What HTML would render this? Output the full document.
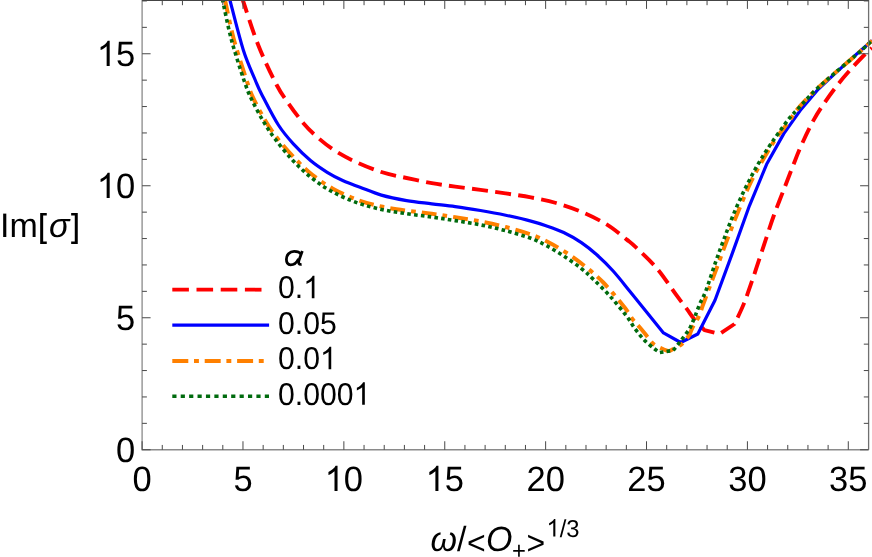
<!DOCTYPE html>
<html><head><meta charset="utf-8"><title>plot</title>
<style>
html,body{margin:0;padding:0;background:#fff;}
body{width:872px;height:557px;overflow:hidden;font-family:"Liberation Sans",sans-serif;}
svg{display:block;will-change:transform;}
text{font-family:"Liberation Sans",sans-serif;fill:#000;text-rendering:geometricPrecision;}
</style></head><body>
<svg width="872" height="557" viewBox="0 0 872 557">
<rect width="872" height="557" fill="#fff"/>
<g fill="none" stroke-linejoin="round">
<path d="M242.8 0.0 C245.4 7.5 252.5 30.8 258.2 45.0 C263.8 59.2 271.7 75.4 276.7 85.0 C281.7 94.6 283.6 96.4 288.0 102.7 C292.4 109.0 298.1 117.0 303.2 122.9 C308.2 128.8 312.8 133.2 318.3 138.0 C323.8 142.8 329.7 147.4 336.0 151.4 C342.3 155.4 348.5 158.6 356.1 162.0 C363.7 165.4 373.0 169.3 381.4 172.0 C389.8 174.7 398.2 176.2 406.6 178.0 C415.0 179.8 423.7 181.7 431.8 183.1 C439.9 184.5 447.1 185.5 455.2 186.6 C463.3 187.7 472.1 188.8 480.5 189.9 C488.9 191.0 497.3 192.2 505.7 193.4 C514.1 194.7 522.5 195.8 530.9 197.4 C539.3 199.0 547.7 200.6 556.1 203.0 C564.5 205.4 573.0 208.2 581.4 211.8 C589.8 215.4 599.0 219.8 606.6 224.4 C614.2 229.0 621.9 235.8 626.8 239.6 C631.7 243.4 631.0 242.6 636.0 247.4 C641.0 252.2 650.4 260.7 657.0 268.5 C663.6 276.3 670.8 287.5 675.7 294.2 C680.6 300.9 683.5 304.5 686.6 308.6 C689.7 312.7 691.1 315.4 694.1 319.0 C697.1 322.6 702.8 328.3 704.5 330.2 L719.5 334.0 L734.5 324.0 C736.1 320.6 741.0 310.9 744.0 303.4 C747.0 295.9 749.7 287.7 752.7 279.0 C755.7 270.3 759.8 257.6 762.0 251.0 C764.2 244.4 763.8 245.5 765.8 239.5 C767.8 233.5 770.8 223.8 774.0 215.0 C777.2 206.2 781.4 195.8 784.8 187.0 C788.2 178.2 791.3 169.9 794.3 162.5 C797.2 155.1 799.2 149.8 802.5 142.7 C805.8 135.5 810.2 126.3 813.9 119.6 C817.6 112.9 820.7 108.3 824.6 102.6 C828.5 96.9 833.0 90.7 837.2 85.3 C841.4 79.9 845.6 75.1 849.8 70.4 C854.0 65.7 858.6 60.7 862.3 57.0 C866.0 53.3 870.4 49.5 872.0 48.0" stroke="#ff0000" stroke-width="3.9" stroke-dasharray="16 7.3" stroke-dashoffset="2.4"/>
<path d="M229.9 0.0 C232.1 8.3 239.1 36.7 243.3 50.0 C247.5 63.3 252.2 72.7 255.2 80.0 C258.2 87.3 257.6 86.4 261.5 93.9 C265.4 101.4 273.0 116.6 278.4 125.0 C283.8 133.4 288.2 138.2 293.6 144.1 C299.0 150.0 304.9 155.8 310.5 160.5 C316.1 165.2 321.8 168.9 327.2 172.3 C332.6 175.7 337.7 178.2 343.2 180.7 C348.7 183.2 353.6 184.8 360.0 187.2 C366.4 189.6 373.6 192.9 381.4 195.1 C389.2 197.3 398.2 199.1 406.6 200.6 C415.0 202.1 423.7 202.8 431.8 203.8 C439.9 204.8 447.1 205.5 455.2 206.6 C463.3 207.7 472.1 209.1 480.5 210.5 C488.9 211.9 497.3 213.4 505.7 215.2 C514.1 217.0 524.2 219.3 530.9 221.1 C537.6 222.8 540.5 223.8 546.0 225.7 C551.5 227.6 557.8 229.7 563.7 232.5 C569.6 235.3 575.9 238.9 581.4 242.6 C586.9 246.3 591.2 249.8 596.5 254.5 C601.8 259.2 607.3 264.6 612.9 270.8 C618.5 277.0 621.6 281.1 630.0 291.5 C638.4 301.9 657.9 326.0 663.5 332.9 L680.7 342.5 L697.8 334.0 L715.0 300.2 L732.2 253.6 L749.4 205.8 L766.6 164.3 L783.8 133.6 L801.0 109.4 L818.2 89.3 L835.4 73.2 L852.6 57.6 C855.5 55.1 866.6 45.4 869.8 42.6 C873.0 39.8 871.6 40.9 872.0 40.6" stroke="#0000ff" stroke-width="3.2"/>
<path d="M225.0 0.0 C226.5 6.7 230.4 26.7 234.0 40.0 C237.6 53.3 243.3 70.3 246.5 80.0 C249.7 89.7 250.2 91.6 253.3 98.2 C256.4 104.8 260.8 113.0 264.8 119.7 C268.8 126.4 272.2 131.7 277.3 138.2 C282.4 144.7 289.5 152.7 295.3 158.8 C301.1 164.9 306.1 169.9 312.3 174.8 C318.5 179.7 324.8 184.2 332.4 188.4 C339.9 192.6 349.2 196.8 357.6 199.9 C366.0 203.0 374.4 205.0 382.8 206.8 C391.2 208.6 399.8 209.7 408.0 210.8 C416.2 212.0 423.9 212.6 431.8 213.7 C439.7 214.8 447.1 215.9 455.2 217.2 C463.3 218.5 472.1 219.8 480.5 221.4 C488.9 223.0 497.3 224.8 505.7 227.0 C514.1 229.2 523.9 232.0 530.9 234.5 C537.9 237.0 542.1 239.0 548.0 242.0 C553.9 245.0 560.0 248.6 566.0 252.5 C572.0 256.4 577.8 260.5 584.0 265.5 C590.2 270.5 596.6 275.6 603.3 282.5 C610.0 289.4 619.3 300.8 624.3 307.0 C629.2 313.2 630.4 316.4 633.0 319.8 C635.6 323.2 637.2 324.4 639.7 327.3 C642.2 330.2 645.5 334.5 647.9 337.4 C650.3 340.2 651.3 342.4 653.9 344.4 C656.5 346.4 661.9 348.5 663.5 349.3 C664.4 349.6 667.2 351.2 668.8 351.1 C670.4 351.0 672.5 349.3 673.2 348.9 C674.7 348.0 679.5 346.1 682.2 343.7 C684.9 341.3 688.4 336.2 689.6 334.7 C690.1 333.5 691.1 330.3 692.6 327.3 C694.1 324.3 696.9 320.5 698.6 316.8 C700.3 313.1 701.8 308.2 703.0 304.9 C704.2 301.5 703.4 303.7 706.0 296.7 C708.6 289.7 715.1 272.4 718.7 262.7 C722.3 253.0 724.5 246.6 727.7 238.3 C730.9 230.0 733.9 222.0 737.7 212.7 C741.5 203.4 746.2 191.6 750.7 182.3 C755.2 173.0 760.4 164.1 764.7 156.7 C769.0 149.3 772.4 143.7 776.3 138.0 C780.2 132.3 784.5 127.5 788.0 122.8 C791.5 118.1 792.7 114.9 797.0 109.7 C801.3 104.5 808.0 97.5 813.8 91.8 C819.6 86.1 825.8 80.8 831.8 75.6 C837.8 70.4 844.7 64.7 849.8 60.4 C854.9 56.1 858.6 52.9 862.3 49.6 C866.0 46.3 870.4 42.1 872.0 40.6" stroke="#ff8000" stroke-width="4" stroke-dasharray="14.9 6.1 4.7 6.1" stroke-dashoffset="0.7"/>
<path d="M222.6 0.0 C224.1 6.7 227.9 26.7 231.5 40.0 C235.1 53.3 240.6 70.2 243.9 80.0 C247.2 89.8 248.2 92.2 251.4 98.9 C254.6 105.6 258.8 113.7 262.8 120.4 C266.8 127.1 270.3 132.6 275.4 139.3 C280.4 146.0 287.2 154.4 293.1 160.7 C299.0 167.0 304.4 172.0 310.7 177.1 C317.0 182.2 323.3 186.8 330.9 191.0 C338.5 195.2 347.7 199.3 356.1 202.4 C364.5 205.5 373.0 207.5 381.4 209.4 C389.8 211.3 398.2 212.4 406.6 213.7 C415.0 215.0 423.7 215.8 431.8 217.0 C439.9 218.2 447.1 219.3 455.2 220.6 C463.3 221.9 472.1 223.2 480.5 224.9 C488.9 226.6 497.3 228.5 505.7 230.7 C514.1 232.9 524.2 235.9 530.9 238.3 C537.6 240.8 540.5 242.5 546.0 245.4 C551.5 248.3 557.8 252.1 563.7 256.0 C569.6 259.9 576.4 264.6 581.4 268.6 C586.4 272.6 589.2 275.2 594.0 279.9 C598.8 284.5 604.8 290.4 610.3 296.5 C615.8 302.6 622.6 310.9 626.7 316.3 C630.9 321.7 632.3 325.1 635.2 329.0 C638.1 332.9 641.1 336.8 644.2 340.0 C647.3 343.2 651.3 346.3 653.9 348.4 C656.5 350.5 658.8 351.9 659.8 352.6 L673.2 350.4 C674.6 348.7 678.7 343.6 681.4 340.0 C684.1 336.4 688.2 330.8 689.6 329.0 C690.5 327.0 693.1 321.1 694.8 316.8 C696.5 312.5 698.2 307.7 700.0 303.4 C701.8 299.1 703.1 298.0 705.7 291.2 C708.3 284.4 712.4 271.3 715.4 262.7 C718.4 254.1 720.8 247.4 723.8 239.5 C726.8 231.6 729.7 223.4 733.2 215.0 C736.7 206.6 740.7 197.7 744.8 189.3 C748.9 180.9 753.2 172.6 757.7 164.8 C762.2 157.0 766.6 150.2 771.7 142.7 C776.8 135.2 784.0 125.1 788.3 119.6 C792.5 114.1 793.0 114.3 797.2 109.7 C801.5 105.1 808.0 97.5 813.8 91.8 C819.6 86.1 825.8 80.8 831.8 75.6 C837.8 70.4 844.7 64.7 849.8 60.4 C854.9 56.1 858.6 52.9 862.3 49.6 C866.0 46.3 870.4 42.1 872.0 40.6" stroke="#006b0e" stroke-width="3.6" stroke-dasharray="3.6 3.24" stroke-dashoffset="1.0"/>
</g>
<g fill="none" stroke-width="1.3">
<path d="M142.10 0 V449.75 H868.60" stroke="#8a8a8a"/>
<path d="M868.60 449.75 V0" stroke="#707070"/>
<path d="M142.10 0.40 H868.60" stroke="#444"/>
</g>
<g fill="none" stroke="#484848" stroke-width="1">
<path d="M142.10 449.75 v-8.50"/>
<path d="M162.28 449.75 v-4.80 M162.28 0.40 v4.80"/>
<path d="M182.45 449.75 v-4.80 M182.45 0.40 v4.80"/>
<path d="M202.63 449.75 v-4.80 M202.63 0.40 v4.80"/>
<path d="M222.81 449.75 v-4.80 M222.81 0.40 v4.80"/>
<path d="M242.98 449.75 v-8.50 M242.98 0.40 v8.50"/>
<path d="M263.16 449.75 v-4.80 M263.16 0.40 v4.80"/>
<path d="M283.34 449.75 v-4.80 M283.34 0.40 v4.80"/>
<path d="M303.52 449.75 v-4.80 M303.52 0.40 v4.80"/>
<path d="M323.69 449.75 v-4.80 M323.69 0.40 v4.80"/>
<path d="M343.87 449.75 v-8.50 M343.87 0.40 v8.50"/>
<path d="M364.05 449.75 v-4.80 M364.05 0.40 v4.80"/>
<path d="M384.22 449.75 v-4.80 M384.22 0.40 v4.80"/>
<path d="M404.40 449.75 v-4.80 M404.40 0.40 v4.80"/>
<path d="M424.58 449.75 v-4.80 M424.58 0.40 v4.80"/>
<path d="M444.75 449.75 v-8.50 M444.75 0.40 v8.50"/>
<path d="M464.93 449.75 v-4.80 M464.93 0.40 v4.80"/>
<path d="M485.11 449.75 v-4.80 M485.11 0.40 v4.80"/>
<path d="M505.29 449.75 v-4.80 M505.29 0.40 v4.80"/>
<path d="M525.46 449.75 v-4.80 M525.46 0.40 v4.80"/>
<path d="M545.64 449.75 v-8.50 M545.64 0.40 v8.50"/>
<path d="M565.82 449.75 v-4.80 M565.82 0.40 v4.80"/>
<path d="M585.99 449.75 v-4.80 M585.99 0.40 v4.80"/>
<path d="M606.17 449.75 v-4.80 M606.17 0.40 v4.80"/>
<path d="M626.35 449.75 v-4.80 M626.35 0.40 v4.80"/>
<path d="M646.52 449.75 v-8.50 M646.52 0.40 v8.50"/>
<path d="M666.70 449.75 v-4.80 M666.70 0.40 v4.80"/>
<path d="M686.88 449.75 v-4.80 M686.88 0.40 v4.80"/>
<path d="M707.06 449.75 v-4.80 M707.06 0.40 v4.80"/>
<path d="M727.23 449.75 v-4.80 M727.23 0.40 v4.80"/>
<path d="M747.41 449.75 v-8.50 M747.41 0.40 v8.50"/>
<path d="M767.59 449.75 v-4.80 M767.59 0.40 v4.80"/>
<path d="M787.76 449.75 v-4.80 M787.76 0.40 v4.80"/>
<path d="M807.94 449.75 v-4.80 M807.94 0.40 v4.80"/>
<path d="M828.12 449.75 v-4.80 M828.12 0.40 v4.80"/>
<path d="M848.29 449.75 v-8.50 M848.29 0.40 v8.50"/>
<path d="M142.10 449.75 h8.50 M868.60 449.75 h-8.50"/>
<path d="M142.10 423.35 h4.80 M868.60 423.35 h-4.80"/>
<path d="M142.10 396.95 h4.80 M868.60 396.95 h-4.80"/>
<path d="M142.10 370.55 h4.80 M868.60 370.55 h-4.80"/>
<path d="M142.10 344.15 h4.80 M868.60 344.15 h-4.80"/>
<path d="M142.10 317.75 h8.50 M868.60 317.75 h-8.50"/>
<path d="M142.10 291.35 h4.80 M868.60 291.35 h-4.80"/>
<path d="M142.10 264.95 h4.80 M868.60 264.95 h-4.80"/>
<path d="M142.10 238.55 h4.80 M868.60 238.55 h-4.80"/>
<path d="M142.10 212.15 h4.80 M868.60 212.15 h-4.80"/>
<path d="M142.10 185.75 h8.50 M868.60 185.75 h-8.50"/>
<path d="M142.10 159.35 h4.80 M868.60 159.35 h-4.80"/>
<path d="M142.10 132.95 h4.80 M868.60 132.95 h-4.80"/>
<path d="M142.10 106.55 h4.80 M868.60 106.55 h-4.80"/>
<path d="M142.10 80.15 h4.80 M868.60 80.15 h-4.80"/>
<path d="M142.10 53.75 h8.50 M868.60 53.75 h-8.50"/>
<path d="M142.10 27.35 h4.80 M868.60 27.35 h-4.80"/>
<path d="M142.10 0.95 h4.80 M868.60 0.95 h-4.80"/>
</g>
<g fill="#000"><text transform="translate(132.51 491.00) scale(1 1.020)" font-size="34.50">0</text><text transform="translate(233.39 491.00) scale(1 1.020)" font-size="34.50">5</text><path transform="translate(324.68 491.00) scale(0.01685 -0.01718)" d="M763 0H583V1147Q518 1085 412.5 1023T223 930V1104Q374 1175 487 1276T647 1472H763Z"/><text transform="translate(343.87 491.00) scale(1 1.020)" font-size="34.50">0</text><path transform="translate(425.57 491.00) scale(0.01685 -0.01718)" d="M763 0H583V1147Q518 1085 412.5 1023T223 930V1104Q374 1175 487 1276T647 1472H763Z"/><text transform="translate(444.75 491.00) scale(1 1.020)" font-size="34.50">5</text><text transform="translate(526.45 491.00) scale(1 1.020)" font-size="34.50">20</text><text transform="translate(627.34 491.00) scale(1 1.020)" font-size="34.50">25</text><text transform="translate(728.22 491.00) scale(1 1.020)" font-size="34.50">30</text><text transform="translate(829.11 491.00) scale(1 1.020)" font-size="34.50">35</text>
<text transform="translate(116.01 462.05) scale(1 1.020)" font-size="34.50">0</text><text transform="translate(116.01 330.05) scale(1 1.020)" font-size="34.50">5</text><path transform="translate(96.83 198.05) scale(0.01685 -0.01718)" d="M763 0H583V1147Q518 1085 412.5 1023T223 930V1104Q374 1175 487 1276T647 1472H763Z"/><text transform="translate(116.01 198.05) scale(1 1.020)" font-size="34.50">0</text><path transform="translate(96.83 66.05) scale(0.01685 -0.01718)" d="M763 0H583V1147Q518 1085 412.5 1023T223 930V1104Q374 1175 487 1276T647 1472H763Z"/><text transform="translate(116.01 66.05) scale(1 1.020)" font-size="34.50">5</text></g>
<g fill="none">
<path d="M172.3 289.7 H269.1" stroke="#ff0000" stroke-width="3.8" stroke-dasharray="16.6 7.6"/>
<path d="M172.3 325.1 H269.1" stroke="#0000ff" stroke-width="3.3"/>
<path d="M172.3 360.9 H269.1" stroke="#ff8000" stroke-width="4" stroke-dasharray="16 5.7 4.9 5.8"/>
<path d="M172.3 396.3 H269.1" stroke="#006b0e" stroke-width="3.5" stroke-dasharray="4.2 4.21"/>
</g>
<g fill="#000"><text transform="translate(278.00 298.30) scale(1 1.040)" font-size="30.20">0.</text><path transform="translate(303.19 298.30) scale(0.01475 -0.01534)" d="M763 0H583V1147Q518 1085 412.5 1023T223 930V1104Q374 1175 487 1276T647 1472H763Z"/><text transform="translate(278.00 333.80) scale(1 1.040)" font-size="30.20">0.05</text><text transform="translate(278.00 369.30) scale(1 1.040)" font-size="30.20">0.0</text><path transform="translate(319.98 369.30) scale(0.01475 -0.01534)" d="M763 0H583V1147Q518 1085 412.5 1023T223 930V1104Q374 1175 487 1276T647 1472H763Z"/><text transform="translate(278.00 404.80) scale(1 1.040)" font-size="30.20">0.000</text><path transform="translate(353.57 404.80) scale(0.01475 -0.01534)" d="M763 0H583V1147Q518 1085 412.5 1023T223 930V1104Q374 1175 487 1276T647 1472H763Z"/><g fill="none" stroke="#000" stroke-width="2.8" stroke-linejoin="round"><path d="M300.6 254.0 C299.5 252 297 251.3 294.2 251.3 C289.5 251.3 286.4 255 286.4 259.3 C286.4 262.8 288 264.8 290.6 264.8 C294 264.8 297 262 298.6 258.8"/><path d="M302.3 251.0 L298.9 260.5 C298.2 263 298.8 264.7 301.6 264.3"/></g>
<text transform="translate(0.10 237.30) scale(1 1.000)" font-size="34.00">Im</text><path transform="translate(37.87 237.30) scale(0.01660 -0.01660)" d="M139 -407V1466H536V1317H319V-258H536V-407Z"/><text transform="translate(48.91 237.30) scale(1 1.000)" font-size="34.00" font-style="italic">σ</text><path transform="translate(70.62 237.30) scale(0.01660 -0.01660)" d="M430 -407V1466H33V1317H250V-258H33V-407Z"/>
<text transform="translate(430.50 551.20) scale(1 1.030)" font-size="34.00" font-style="italic">ω</text><text transform="translate(456.98 551.20) scale(1 1.030)" font-size="34.00">/</text><text transform="translate(467.03 554.00) scale(1 1.030)" font-size="31.96">&lt;</text><text transform="translate(485.99 551.20) scale(1 1.030)" font-size="34.00" font-style="italic">O</text><text transform="translate(512.04 558.50) scale(1 1.030)" font-size="23.80">+</text><text transform="translate(526.54 554.00) scale(1 1.030)" font-size="31.96">&gt;</text><path transform="translate(546.50 536.50) scale(0.01162 -0.01197)" d="M763 0H583V1147Q518 1085 412.5 1023T223 930V1104Q374 1175 487 1276T647 1472H763Z"/><text transform="translate(559.74 536.50) scale(1 1.030)" font-size="23.80">/3</text></g>
</svg>
</body></html>
